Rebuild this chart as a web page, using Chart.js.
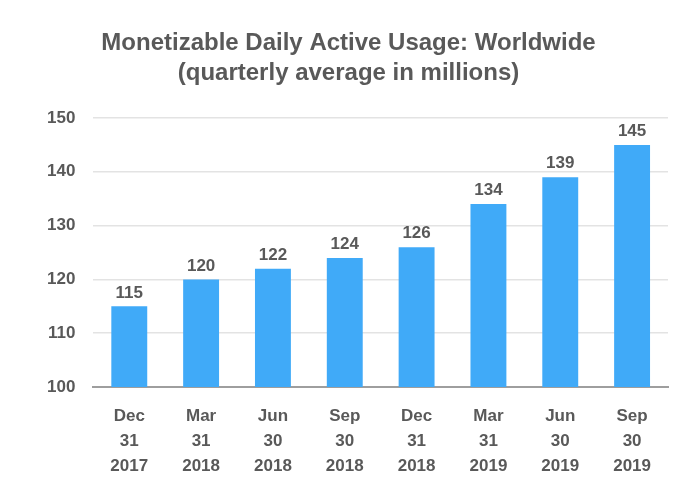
<!DOCTYPE html>
<html>
<head>
<meta charset="utf-8">
<script src="https://cdn.jsdelivr.net/npm/chart.js@4"></script>
<style>
  html, body { margin: 0; padding: 0; background: #fff; }
  #wrap { width: 700px; height: 500px; }
</style>
</head>
<body>
<div id="wrap"><canvas id="chart"></canvas></div>
<script>
const quarters = [
  ['Dec', '31', '2017'], ['Mar', '31', '2018'], ['Jun', '30', '2018'], ['Sep', '30', '2018'],
  ['Dec', '31', '2018'], ['Mar', '31', '2019'], ['Jun', '30', '2019'], ['Sep', '30', '2019']
];
const dau = [115, 120, 122, 124, 126, 134, 139, 145];
const yTicks = [100, 110, 120, 130, 140, 150];

const textGrey = '#595959';
const font = 'Liberation Sans, Arial, sans-serif';

// value labels above each bar
const barLabels = {
  id: 'barLabels',
  afterDatasetsDraw(chart) {
    const ctx = chart.ctx;
    const meta = chart.getDatasetMeta(0);
    ctx.save();
    ctx.font = 'bold 17px ' + font;
    ctx.fillStyle = textGrey;
    ctx.textAlign = 'center';
    ctx.textBaseline = 'bottom';
    meta.data.forEach((bar, i) => {
      ctx.fillText(dau[i], bar.x, bar.y - 5);
    });
    ctx.restore();
  }
};

new Chart(document.getElementById('chart').getContext('2d'), {
  type: 'bar',
  data: {
    labels: quarters,
    datasets: [{
      data: dau,
      backgroundColor: '#40AAF8',
      categoryPercentage: 1,
      barPercentage: 0.5
    }]
  },
  options: {
    responsive: true,
    maintainAspectRatio: false,
    animation: false,
    layout: { padding: { left: 29, right: 32, top: 28, bottom: 4 } },
    plugins: {
      legend: { display: false },
      tooltip: { enabled: false },
      title: {
        display: true,
        text: ['Monetizable Daily Active Usage: Worldwide', '(quarterly average in millions)'],
        color: textGrey,
        font: { family: font, size: 24, weight: 'bold', lineHeight: 1.25 },
        padding: { top: 0, bottom: 30 }
      }
    },
    scales: {
      x: {
        grid: { display: false, drawTicks: false },
        border: { color: '#9e9e9e', width: 2 },
        ticks: {
          color: textGrey,
          font: { family: font, size: 17, weight: 'bold', lineHeight: 1.47 },
          padding: 17,
          maxRotation: 0
        }
      },
      y: {
        min: 100,
        max: 150,
        afterBuildTicks(axis) { axis.ticks = yTicks.map(v => ({ value: v })); },
        grid: { color: '#e3e3e3', lineWidth: 1.5, drawTicks: false },
        border: { display: false },
        ticks: {
          color: textGrey,
          font: { family: font, size: 17, weight: 'bold' },
          padding: 18
        }
      }
    }
  },
  plugins: [barLabels]
});
</script>
</body>
</html>
